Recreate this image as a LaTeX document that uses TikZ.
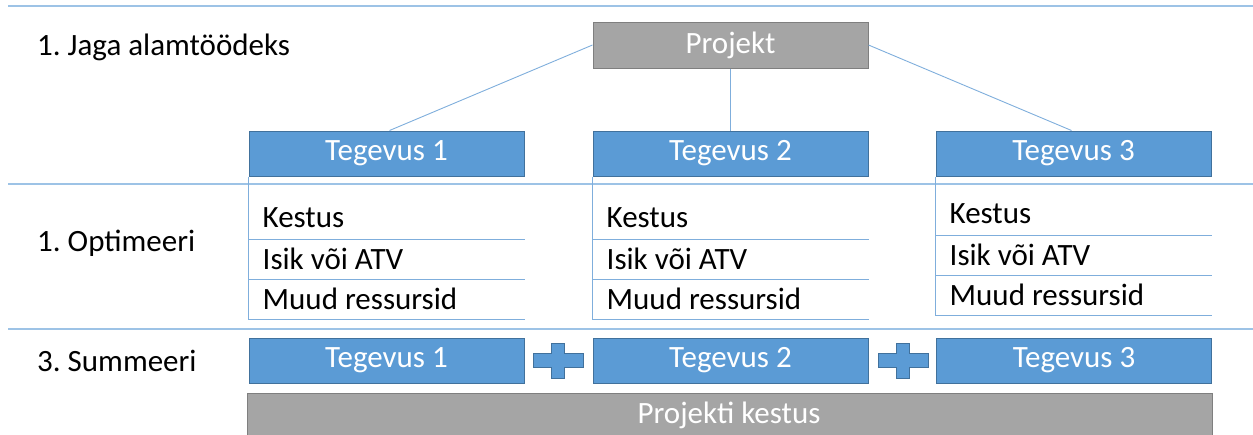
\documentclass[tikz,border=0pt]{standalone}
\usepackage{fontspec}
\setmainfont{Carlito}
\frenchspacing
\definecolor{boxblue}{HTML}{5B9BD5}
\definecolor{boxedge}{HTML}{41719C}
\definecolor{boxgray}{HTML}{A5A5A5}
\definecolor{grayedge}{HTML}{7F7F7F}
\definecolor{rulecol}{HTML}{9DC3E6}
\definecolor{linkcol}{HTML}{7FAEDC}
\tikzset{
  bluebox/.style={draw=boxedge, fill=boxblue, line width=1pt, minimum width=275pt,
    minimum height=45pt, inner sep=0pt, text=white, font=\fontsize{31}{35}\selectfont},
  graybox/.style={draw=grayedge, fill=boxgray, line width=1pt, minimum width=275pt,
    minimum height=46pt, inner sep=0pt, text=white, font=\fontsize{31}{35}\selectfont},
  rowlabel/.style={anchor=west, inner sep=0pt, font=\fontsize{31}{35}\selectfont},
  item/.style={anchor=west, inner sep=0pt, font=\fontsize{31}{35}\selectfont},
  rule/.style={draw=rulecol, line width=1.6pt},
  link/.style={draw=linkcol, line width=0.9pt},
  plussign/.style={draw=boxedge, fill=boxblue, line width=1pt},
}
\begin{document}
\begin{tikzpicture}[x=1pt, y=-1pt]
  \useasboundingbox (0,0) rectangle (1253,434);

  % section rules
  \draw[rule] (8,6) -- (1253,6);
  \draw[rule] (8,184) -- (1253,184);
  \draw[rule] (8,329) -- (1253,329);

  % row labels
  \node[rowlabel] (l1) at (37,47) {1. Jaga alamtöödeks};
  \node[rowlabel] (l2) at (37,243) {1. Optimeeri};
  \node[rowlabel] (l3) at (37,361) {3. Summeeri};

  % breakdown tree
  \node[graybox] (proj) at (730.5,45) {Projekt};
  \node[bluebox] (t1) at (386.5,153.5) {Tegevus 1};
  \node[bluebox] (t2) at (730.5,153.5) {Tegevus 2};
  \node[bluebox] (t3) at (1073.5,153.5) {Tegevus 3};
  \draw[link] (proj.west) -- ([xshift=3pt]t1.north);
  \draw[link] (proj.south) -- (t2.north);
  \draw[link] (proj.east) -- ([xshift=-2pt]t3.north);

  % attribute lists under each activity (yshift is in page units, so downward is negative)
  \foreach \t/\dy in {t1/0, t2/0, t3/4}{
    \draw[link] (\t.south west) -- ([yshift=-143+\dy]\t.south west);
    \foreach \y in {63,103,143}
      \draw[link] ([yshift=-\y+\dy]\t.south west) -- ([yshift=-\y+\dy]\t.south east);
    \node[item] (\t k) at ([xshift=14pt, yshift=-41+\dy]\t.south west) {Kestus};
    \node[item] (\t i) at ([xshift=14pt, yshift=-82+\dy]\t.south west) {Isik või ATV};
    \node[item] (\t m) at ([xshift=14pt, yshift=-122+\dy]\t.south west) {Muud ressursid};
  }

  % summation row
  \node[bluebox] (s1) at (386.5,360.5) {Tegevus 1};
  \node[bluebox] (s2) at (730.5,360.5) {Tegevus 2};
  \node[bluebox] (s3) at (1074,360.5) {Tegevus 3};
  \foreach \cx in {558,903}{
    \draw[plussign] (\cx-25,353) -- (\cx-6.5,353) -- (\cx-6.5,343) -- (\cx+6.5,343)
      -- (\cx+6.5,353) -- (\cx+25,353) -- (\cx+25,367) -- (\cx+6.5,367)
      -- (\cx+6.5,378) -- (\cx-6.5,378) -- (\cx-6.5,367) -- (\cx-25,367) -- cycle;
  }
  \node[graybox, minimum width=965pt, minimum height=50pt, anchor=north west] (dur) at (247,393) {};
  \node[inner sep=0pt, text=white, font=\fontsize{31}{35}\selectfont] (durtext) at (729,415) {Projekti kestus};
\end{tikzpicture}
\end{document}
